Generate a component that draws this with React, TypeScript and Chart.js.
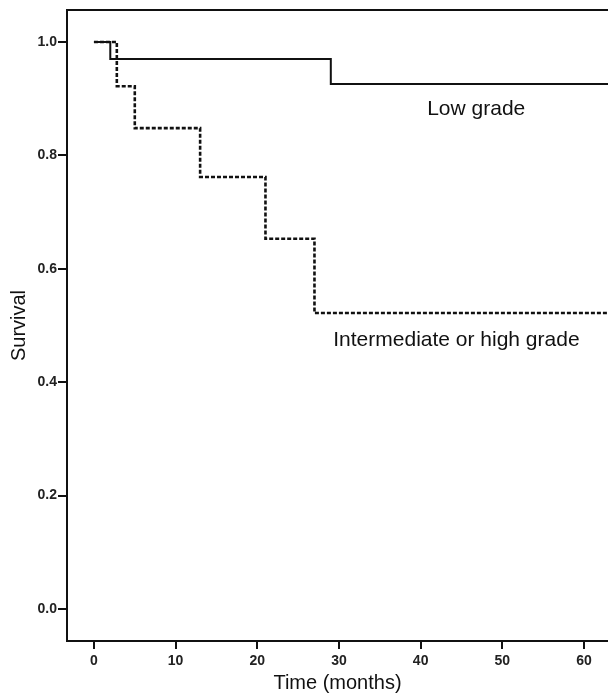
import { useEffect, useRef } from "react";
import { Chart, registerables } from "chart.js";

Chart.register(...registerables);

// ---- data ----
const lowGradeTimes = [0, 2, 29, 63];
const lowGradeSurvival = [1.0, 0.97, 0.926, 0.926];
const interHighTimes = [0, 2.8, 5, 13, 21, 27, 63];
const interHighSurvival = [1.0, 0.922, 0.848, 0.762, 0.653, 0.522, 0.522];
const xTickValues = [0, 10, 20, 30, 40, 50, 60];
const yTickValues = [0, 0.2, 0.4, 0.6, 0.8, 1.0];
const seriesLabels = ["Low grade", "Intermediate or high grade"];
const xTitle = "Time (months)";
const yTitle = "Survival";

const FONT = '"Liberation Sans", Arial, Helvetica, sans-serif';
const INK = "#111";

const framePlugin = {
  id: "frameTop",
  afterDatasetsDraw(chart: any) {
    const { ctx, chartArea } = chart;
    ctx.save();
    ctx.strokeStyle = INK;
    ctx.lineWidth = 2;
    ctx.beginPath();
    ctx.moveTo(chartArea.left - 1, chartArea.top);
    ctx.lineTo(chartArea.right + 2, chartArea.top);
    ctx.stroke();
    ctx.restore();
  },
};

const curveLabelPlugin = {
  id: "curveLabels",
  afterDatasetsDraw(chart: any, _args: any, opts: any) {
    const { ctx } = chart;
    const xs = chart.scales.x;
    const ys = chart.scales.y;
    ctx.save();
    ctx.fillStyle = INK;
    ctx.font = `${opts.size}px ${FONT}`;
    ctx.textAlign = "left";
    ctx.textBaseline = "middle";
    (opts.anchors as { x: number; y: number }[]).forEach((a, i) => {
      ctx.fillText(seriesLabels[i], xs.getPixelForValue(a.x), ys.getPixelForValue(a.y));
    });
    ctx.restore();
  },
};

export default function App() {
  const ref = useRef<HTMLCanvasElement>(null);

  useEffect(() => {
    const canvas = ref.current;
    if (!canvas) return;
    const chart = new Chart(canvas, {
      type: "line",
      data: {
        datasets: [
          {
            label: seriesLabels[0],
            data: lowGradeTimes.map((t, i) => ({ x: t, y: lowGradeSurvival[i] })),
            stepped: true,
            borderColor: INK,
            borderWidth: 2,
            pointRadius: 0,
            fill: false,
          },
          {
            label: seriesLabels[1],
            data: interHighTimes.map((t, i) => ({ x: t, y: interHighSurvival[i] })),
            stepped: true,
            borderColor: INK,
            borderWidth: 2.6,
            borderDash: [4, 2],
            pointRadius: 0,
            fill: false,
          },
        ],
      },
      options: {
        responsive: false,
        animation: false,
        devicePixelRatio: 1,
        layout: { padding: { top: 10, right: 0, bottom: 0, left: 0 } },
        plugins: {
          legend: { display: false },
          tooltip: { enabled: false },
          curveLabels: {
            size: 21,
            anchors: [
              { x: 40.8, y: 0.882 },
              { x: 29.3, y: 0.474 },
            ],
          },
        } as any,
        scales: {
          x: {
            type: "linear",
            min: -3.3,
            max: 62.94,
            afterBuildTicks: (s: any) => {
              s.ticks = xTickValues.map((v) => ({ value: v }));
            },
            afterFit: (s: any) => {
              s.height = 57;
            },
            grid: {
              display: true,
              drawOnChartArea: false,
              drawTicks: true,
              tickLength: 8,
              color: INK,
              lineWidth: 2,
            },
            border: { display: true, color: INK, width: 2 },
            ticks: {
              autoSkip: false,
              maxRotation: 0,
              padding: 4,
              color: "#222",
              font: { family: FONT, size: 14, weight: "bold" },
              callback: (v: any) => String(v),
            },
            title: {
              display: true,
              text: xTitle,
              color: INK,
              font: { family: FONT, size: 20 },
              padding: { top: 0, bottom: 3 },
            },
          },
          y: {
            type: "linear",
            min: -0.0564,
            max: 1.0564,
            afterBuildTicks: (s: any) => {
              s.ticks = yTickValues.map((v) => ({ value: v }));
            },
            afterFit: (s: any) => {
              s.width = 67;
            },
            grid: {
              display: true,
              drawOnChartArea: false,
              drawTicks: true,
              tickLength: 9,
              color: INK,
              lineWidth: 2,
            },
            border: { display: true, color: INK, width: 2 },
            ticks: {
              padding: 1,
              color: "#222",
              font: { family: FONT, size: 14, weight: "bold" },
              callback: (v: any) => Number(v).toFixed(1),
            },
            title: {
              display: true,
              text: yTitle,
              color: INK,
              font: { family: FONT, size: 20 },
              padding: { top: 7, bottom: 0 },
            },
          },
        },
      },
      plugins: [framePlugin, curveLabelPlugin],
    });
    return () => chart.destroy();
  }, []);

  return (
    <div
      style={{
        position: "fixed",
        left: 0,
        top: 0,
        width: 608,
        height: 698,
        overflow: "hidden",
        background: "#fff",
      }}
    >
      <canvas ref={ref} width={608} height={698} style={{ display: "block" }} />
    </div>
  );
}
